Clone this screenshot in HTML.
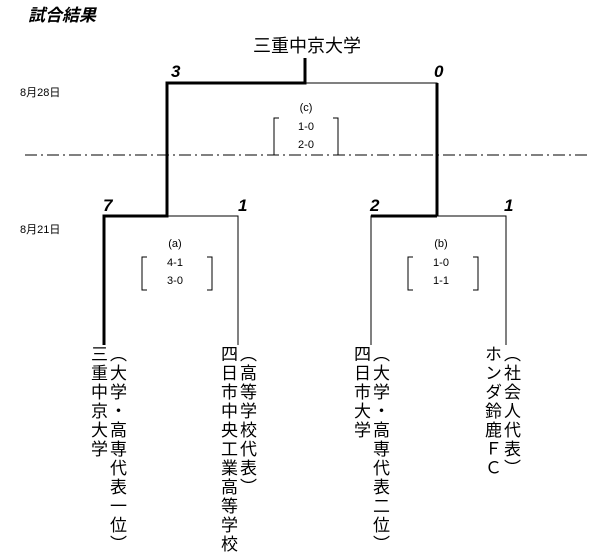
<!DOCTYPE html>
<html><head><meta charset="utf-8"><style>
body{margin:0;width:610px;height:560px;background:#fff;position:relative;overflow:hidden;font-family:"Liberation Sans","Noto Sans CJK JP",sans-serif;color:#000}
.a{position:absolute;white-space:nowrap}
.v{position:absolute;writing-mode:vertical-rl;text-orientation:upright;font-size:17px;letter-spacing:2px;line-height:17px;font-family:"Noto Sans CJK JP",sans-serif}
.s{position:absolute;font-size:17px;font-weight:bold;font-style:italic}
.d{position:absolute;font-size:11px}
.sm{position:absolute;font-size:11px;text-align:center;width:40px}
</style></head><body>
<div class="a" style="left:28px;top:1px;font-size:17px;font-weight:bold;font-style:italic;">試合結果</div>
<div class="a" style="left:253px;top:32px;font-size:18px;">三重中京大学</div>
<svg width="610" height="560" style="position:absolute;left:0;top:0">
<g stroke="#000" fill="none">
<path d="M305 58V83H167V216H104V345" stroke-width="3"/>
<path d="M305 83H437V216H371V345" stroke-width="1"/>
<path d="M437 83V216" stroke-width="3"/>
<path d="M371 216H437" stroke-width="3"/>
<path d="M167 216H238V345M437 216H506V345" stroke-width="1"/>
<path d="M25 155H590" stroke-width="1" stroke-dasharray="12,4,2,4"/>
<path d="M279 118h-5v37h5M333 118h5v37h-5M147 257h-5v33h5M207 257h5v33h-5M413 257h-5v33h5M473 257h5v33h-5" stroke-width="1"/>
</g></svg>
<div class="s" style="left:171px;top:62px">3</div>
<div class="s" style="left:434px;top:62px">0</div>
<div class="s" style="left:103px;top:196px">7</div>
<div class="s" style="left:238px;top:196px">1</div>
<div class="s" style="left:370px;top:196px">2</div>
<div class="s" style="left:504px;top:196px">1</div>
<div class="d" style="left:20px;top:84px">8月28日</div>
<div class="d" style="left:20px;top:221px">8月21日</div>
<div class="sm" style="left:286px;top:102px">(c)</div>
<div class="sm" style="left:286px;top:121px">1-0</div>
<div class="sm" style="left:286px;top:139px">2-0</div>
<div class="sm" style="left:155px;top:238px">(a)</div>
<div class="sm" style="left:155px;top:257px">4-1</div>
<div class="sm" style="left:155px;top:275px">3-0</div>
<div class="sm" style="left:421px;top:238px">(b)</div>
<div class="sm" style="left:421px;top:257px">1-0</div>
<div class="sm" style="left:421px;top:275px">1-1</div>
<div class="v" style="left:91px;top:345px">三重中京大学</div>
<div class="v" style="left:110px;top:345px">（大学・高専代表一位）</div>
<div class="v" style="left:221px;top:345px">四日市中央工業高等学校</div>
<div class="v" style="left:240px;top:345px">（高等学校代表）</div>
<div class="v" style="left:354px;top:345px">四日市大学</div>
<div class="v" style="left:373px;top:345px">（大学・高専代表二位）</div>
<div class="v" style="left:485px;top:345px">ホンダ鈴鹿ＦＣ</div>
<div class="v" style="left:504px;top:345px">（社会人代表）</div>
</body></html>
